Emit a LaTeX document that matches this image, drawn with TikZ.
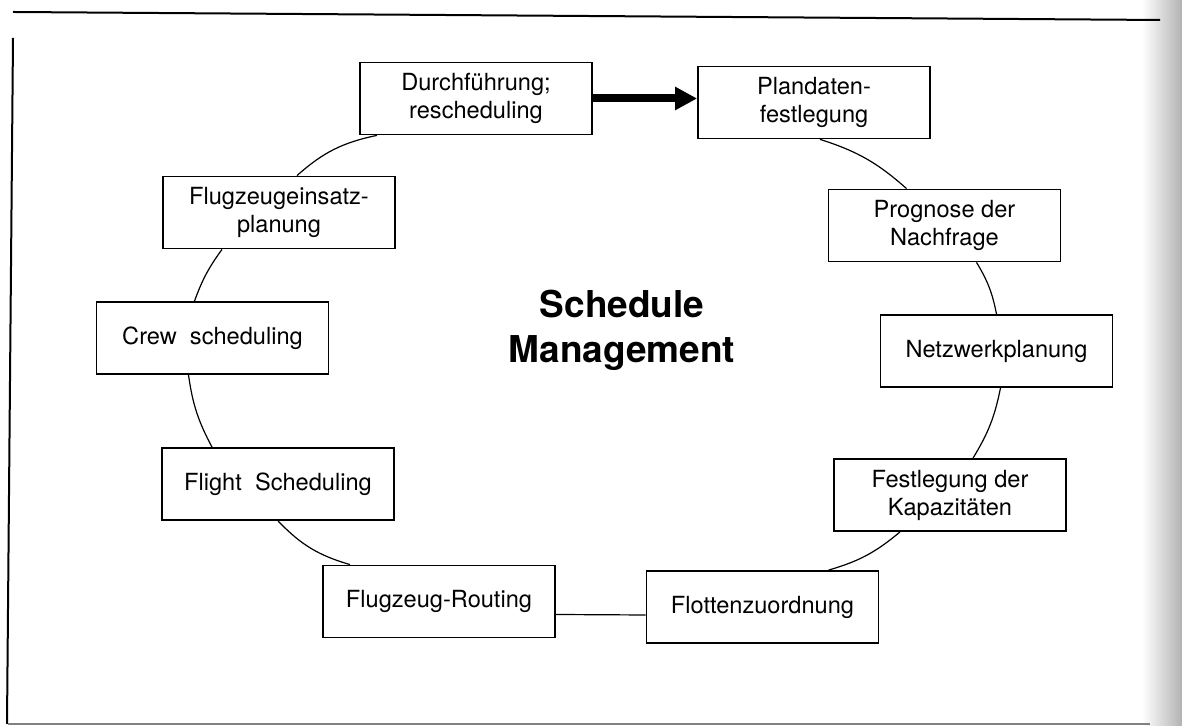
\documentclass[tikz,border=0pt]{standalone}
\usepackage{fontspec}
\setmainfont{TeX Gyre Heros}
\usetikzlibrary{arrows.meta}
\usetikzlibrary{positioning}

\begin{document}
\begin{tikzpicture}[x=0.5pt,y=0.5pt,
  stage/.style={draw,line width=0.9pt,fill=white,minimum width=116pt,minimum height=36pt,
    align=center,inner sep=2pt,font=\fontsize{11.8}{14}\selectfont},
  link/.style={line width=0.6pt},
  flow/.style={line width=4pt,-{Triangle[length=11pt,width=11pt]}}]
\useasboundingbox (0,0) rectangle (1182,726);
% page frame and scan shadow
\shade[left color=white,right color=gray!60] (1142,0) rectangle (1182,726);
\draw[line width=1pt] (13,714) -- (1160,706);
\draw[line width=1pt] (13,688) -- (7,2);
\draw[line width=1pt,gray] (8,2) -- (1150,2);

% centre
\node[font=\fontsize{18.5}{22.5}\selectfont\bfseries,align=center] (title) at (622,396) {Schedule\\Management};

% the cycle
\node[stage] (durch)   at (476,627.5) {Durchführung;\\rescheduling};
\node[stage] (plan)    at (814,623.5) {Plandaten-\\festlegung};
\node[stage] (prog)    at (944.5,500.5) {Prognose der\\Nachfrage};
\node[stage] (netz)    at (996.5,375) {Netzwerkplanung};
\node[stage] (kapaz)   at (950,231) {Festlegung der\\Kapazitäten};
\node[stage] (flotten) at (762.5,119) {Flottenzuordnung};
\node[stage] (routing) at (439,124.5) {Flugzeug-Routing};
\node[stage] (flight)  at (278,242) {Flight\ \ Scheduling};
\node[stage] (crew)    at (212.5,388) {Crew\ \ scheduling};
\node[stage] (einsatz) at (279,513.5) {Flugzeugeinsatz-\\planung};

\draw[flow] (durch.east) -- (durch.east -| plan.west);

\draw[link] ([xshift=-49.5pt]durch.south) to[bend right=15] ([xshift=9pt]einsatz.north);
\draw[link] ([xshift=-28.5pt]einsatz.south) to[bend right=8] ([xshift=-9pt]crew.north);
\draw[link] ([xshift=-12pt]crew.south) to[bend right=10] ([xshift=-33pt]flight.north);
\draw[link] (flight.south) to[bend right=15] ([xshift=-44.5pt]routing.north);
\draw[link] ([yshift=-6.5pt]routing.east) -- ([yshift=-4pt]flotten.west);
\draw[link] ([xshift=33pt]flotten.north) to[bend right=12] ([xshift=-25pt]kapaz.south);
\draw[link] ([xshift=11.5pt]kapaz.north) to[bend right=10] ([xshift=2pt]netz.south);
\draw[link] (netz.north) to[bend right=10] ([xshift=16pt]prog.south);
\draw[link] ([xshift=-19pt]prog.north) to[bend right=12] ([xshift=3pt]plan.south);
\end{tikzpicture}
\end{document}
